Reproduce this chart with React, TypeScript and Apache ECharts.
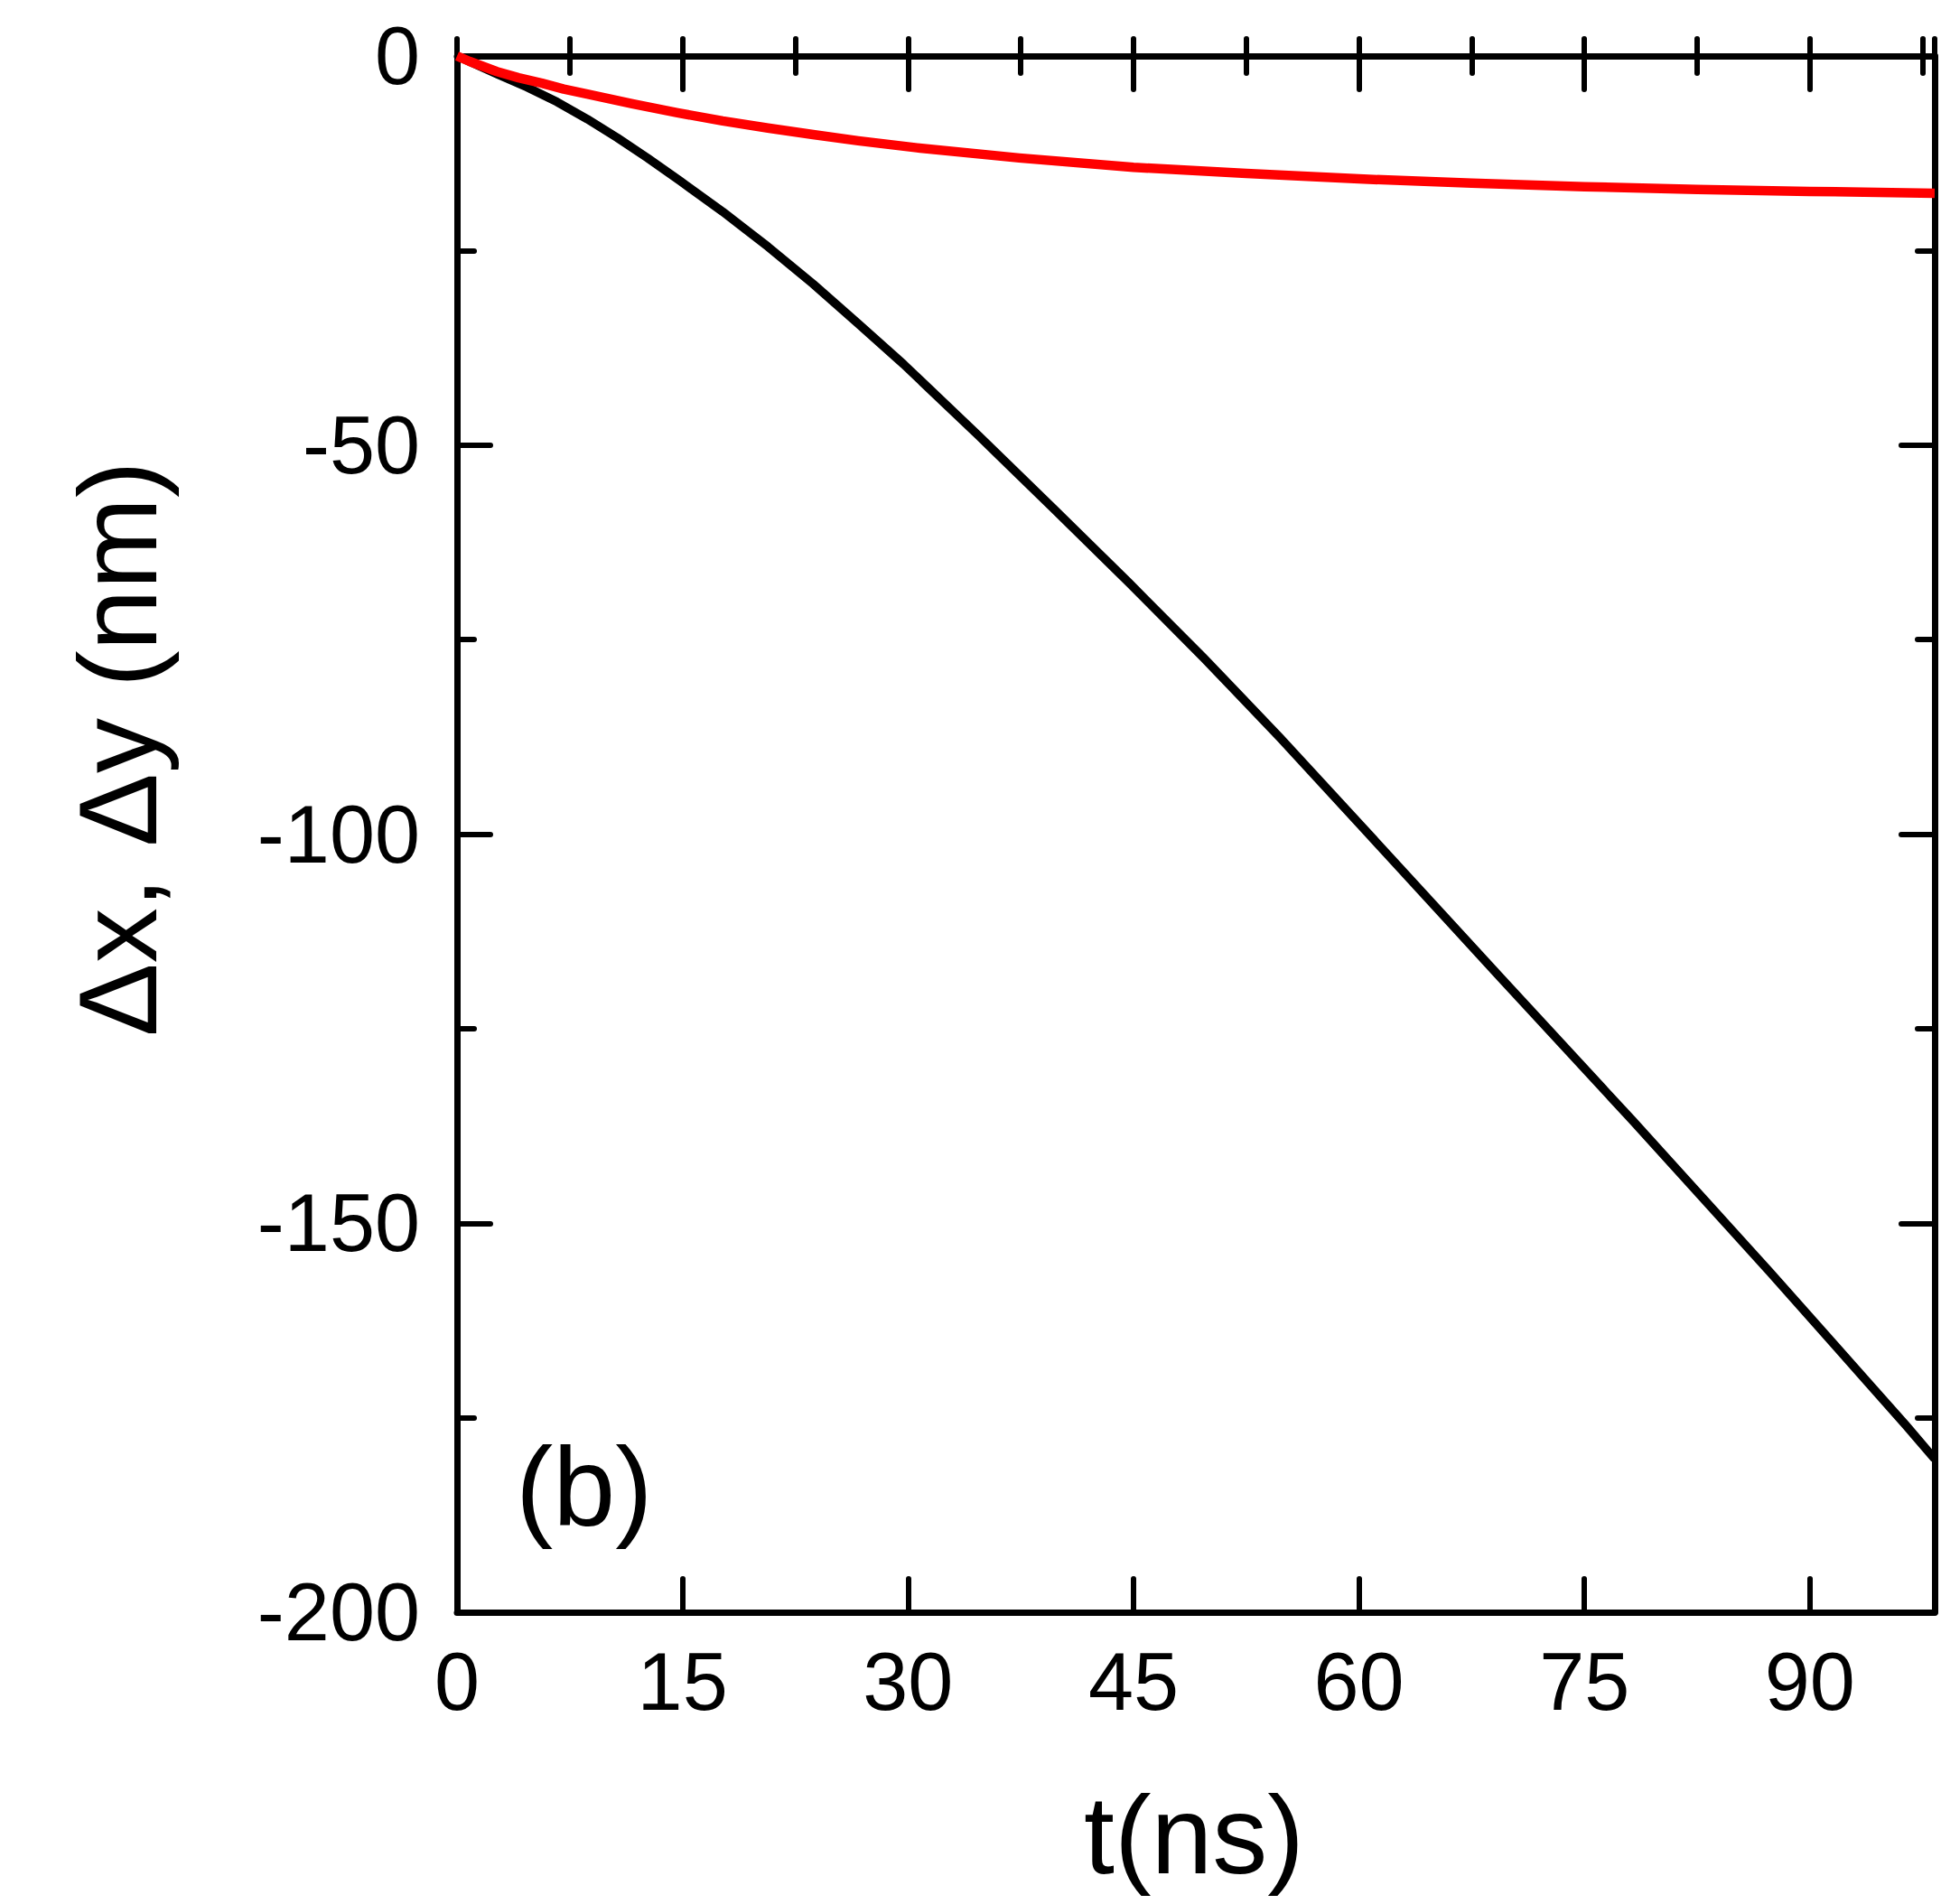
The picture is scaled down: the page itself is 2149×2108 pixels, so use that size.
import React, { useEffect, useRef } from "react";
import * as echarts from "echarts";

// Δx (black) and Δy (red) versus t (ns)
const blackT = [0, 2.65, 4.65, 6.65, 8.66, 10.66, 12.67, 14.87, 17.67, 20.68, 23.69, 26.69, 29.7, 34.7, 39.7, 44.7, 49.7, 54.75, 60.66, 69.4, 78.2, 87.3, 96.4, 98.3];
const blackV = [0, -2.3, -4.0, -5.9, -8.1, -10.5, -13.1, -16.1, -20.0, -24.5, -29.3, -34.4, -39.6, -48.8, -58.2, -67.7, -77.4, -87.6, -100.0, -118.4, -136.8, -156.2, -176.0, -180.3];

const redT = [0, 0.84, 1.6, 2.65, 4.1, 5.65, 7.1, 8.66, 11.66, 14.67, 17.67, 20.68, 23.69, 26.69, 30.6, 37.4, 45, 52.5, 60, 67.5, 75, 82.5, 90, 98.3];
const redV = [0, -0.7, -1.25, -2.0, -2.8, -3.5, -4.25, -4.9, -6.15, -7.3, -8.35, -9.25, -10.1, -10.9, -11.8, -13.1, -14.3, -15.1, -15.8, -16.35, -16.8, -17.15, -17.4, -17.65];

const xMin = 0;
const xMax = 98.3;
const xMajor = 15;
const xMinor = 7.5;
const yMin = -200;
const yMax = 0;
const yMajor = 50;

const xTitle = "t(ns)";
const yTitle = "Δx, Δy (nm)";
const panelLabel = "(b)";

const FONT = "'Liberation Sans', Arial, Helvetica, sans-serif";

export default function App() {
  const ref = useRef<HTMLDivElement>(null);

  useEffect(() => {
    document.body.style.margin = "0";
    if (!ref.current) return;
    const chart = echarts.init(ref.current, undefined, { renderer: "svg" });

    const axisLine = { show: true, onZero: false, lineStyle: { color: "#000", width: 7 } };
    const majTick = { show: true, inside: true, length: 37, lineStyle: { color: "#000", width: 6, cap: "round" } };
    const minTick = { show: true, inside: true, length: 19, lineStyle: { color: "#000", width: 6, cap: "round" } };
    const label = { color: "#000", fontSize: 90, fontFamily: FONT };

    const xBase = { type: "value", min: xMin, max: xMax, splitLine: { show: false } };

    chart.setOption({
      animation: false,
      backgroundColor: "#fff",
      grid: { left: 506, top: 62, width: 1636, height: 1723, outerBoundsMode: "none", containLabel: false },
      xAxis: [
        {
          ...xBase,
          position: "bottom",
          interval: xMajor,
          axisLine,
          axisTick: majTick,
          axisLabel: { ...label, margin: 32, showMaxLabel: false, showMinLabel: true },
        },
        {
          ...xBase,
          position: "bottom",
          interval: xMinor,
          axisLine: { show: false },
          axisTick: minTick,
          axisLabel: { show: false },
        },
        {
          ...xBase,
          position: "top",
          interval: xMajor,
          axisLine,
          axisTick: majTick,
          axisLabel: { show: false },
        },
        {
          ...xBase,
          position: "top",
          interval: xMinor,
          axisLine: { show: false },
          axisTick: minTick,
          axisLabel: { show: false },
        },
      ],
      yAxis: [
        {
          type: "value",
          position: "left",
          min: yMin,
          max: yMax,
          interval: yMajor,
          axisLine,
          axisTick: majTick,
          minorTick: { show: true, splitNumber: 2, length: 19, lineStyle: { color: "#000", width: 6, cap: "round" } },
          splitLine: { show: false },
          minorSplitLine: { show: false },
          axisLabel: { ...label, margin: 41 },
        },
        {
          type: "value",
          position: "right",
          min: yMin,
          max: yMax,
          interval: yMajor,
          axisLine,
          axisTick: majTick,
          minorTick: { show: true, splitNumber: 2, length: 19, lineStyle: { color: "#000", width: 6, cap: "round" } },
          splitLine: { show: false },
          minorSplitLine: { show: false },
          axisLabel: { show: false },
        },
      ],
      series: [
        {
          type: "line",
          name: "Δx",
          xAxisIndex: 0,
          yAxisIndex: 0,
          data: blackT.map((t, i) => [t, blackV[i]]),
          showSymbol: false,
          smooth: false,
          lineStyle: { color: "#000", width: 9.5, join: "round" },
          z: 2,
        },
        {
          type: "line",
          name: "Δy",
          xAxisIndex: 0,
          yAxisIndex: 0,
          data: redT.map((t, i) => [t, redV[i]]),
          showSymbol: false,
          smooth: false,
          lineStyle: { color: "#ff0000", width: 10.5, join: "round" },
          z: 3,
        },
      ],
      graphic: [
        {
          type: "text",
          x: 1322,
          y: 2032,
          style: { text: xTitle, fontSize: 122, fontFamily: FONT, fill: "#000", textAlign: "center", textVerticalAlign: "middle" },
        },
        {
          type: "text",
          x: 131,
          y: 829,
          rotation: Math.PI / 2,
          style: { text: yTitle, fontSize: 122, fontFamily: FONT, fill: "#000", textAlign: "center", textVerticalAlign: "middle" },
        },
        {
          type: "text",
          x: 571,
          y: 1646,
          style: { text: panelLabel, fontSize: 124, fontFamily: FONT, fill: "#000", textAlign: "left", textVerticalAlign: "middle" },
        },
      ],
    });

    return () => chart.dispose();
  }, []);

  return <div ref={ref} style={{ width: 2149, height: 2108 }} />;
}
